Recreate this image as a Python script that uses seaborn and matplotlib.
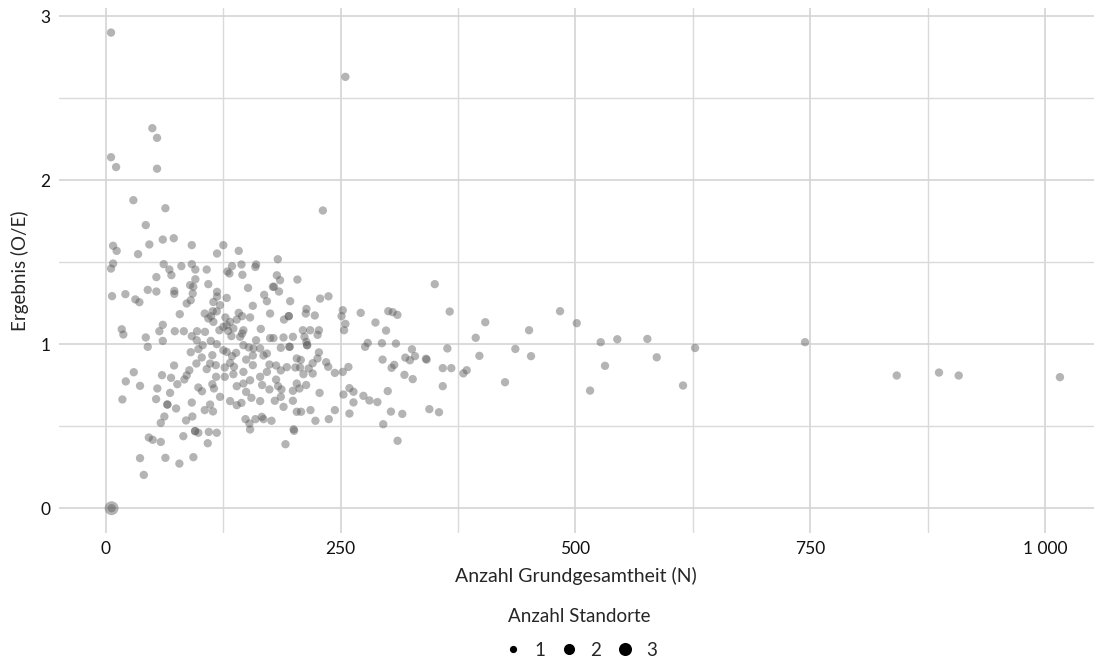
import pandas as pd
import seaborn as sns
import matplotlib
matplotlib.use("Agg")
import matplotlib.pyplot as plt
from matplotlib.ticker import MultipleLocator, FuncFormatter

# Anzahl Grundgesamtheit (N) und Ergebnis (O/E), je ein Standort
n_values = [
    5.4, 49.4, 54.4, 5.4, 10.8, 54.4, 29.2, 63.3, 42.4, 7.6, 11.4, 34.2, 46.2, 60.5, 72.2, 91.4, 118.3,
    255, 231,
    7.6, 5.4, 61.5, 67.5, 69.7, 80.3, 91.4, 95.2, 107.3, 95.2, 53.7, 6.5, 20.7, 44.5, 53.7, 31.3, 35.6,
    72.8, 72.8, 89.6, 93, 109, 92.4, 90.3, 86, 118.3, 118.3, 78.6, 105.2, 109, 114.4, 112, 118, 60.5,
    56.9, 73.3, 82.9, 16.8, 18.5, 42.4, 44.5, 60.5, 91.4, 97, 105.5, 96.7, 103, 111.6, 118, 98.4, 90.3,
    102, 113.3, 96.3, 107.3, 117, 72.5, 29.6, 21.1, 36.3, 59.7, 69.3, 88.8, 86, 83.5, 76, 54.7, 98.4,
    102.3, 113.3, 115, 68.3, 17.5, 53.4, 65.4, 65.4, 74.7, 91.4, 110.9, 105.2, 114, 62.2, 92, 58.4, 85.3,
    94.9, 94.9, 98.4, 109.5, 118, 82.4, 45.6, 49.8, 58.4, 108.4, 36.3, 63.3, 78.2, 93.1, 40.3,
    125, 141.4, 183, 134.3, 144.3, 159.9, 129.3, 131.5, 145.3, 159.1, 182, 185.4, 203.9, 179, 177.8,
    184.3, 151.3, 128.6, 168.5, 171.4, 196.2, 228.1, 237, 114.4, 121.5, 156.4, 113.7, 141.4, 145, 153.5,
    174.8, 194.7, 194.7, 189.6, 213.5, 212.8, 222.4, 250.9, 127.2, 132.2, 139.3, 125, 128.6, 135.7,
    130.1, 120.8, 146.4, 133.6, 142.9, 145, 164.9, 174.8, 178.4, 189.1, 199.1, 209.7, 217.5, 226.8,
    225.4, 211.4, 213.5, 214.2, 214.2, 159.9, 125, 128.6, 146.4, 152.1, 157.1, 164.2, 186.2, 195.5,
    195.5, 171.4, 167.8, 156.4, 149.3, 138.6, 134.3, 132.2, 136.4, 110.9, 126.5, 126.5, 135.7, 146.4,
    156.4, 164.2, 171.4, 174.1, 181.2, 186.2, 192.6, 201.7, 206.7, 215.9, 210.3, 220.2, 203.2, 207.5,
    220.2, 225.3, 226.8, 234.5, 236.7, 243.8, 117.3, 121.5, 139.3, 146.4, 153.5, 149.3, 144.3, 139.3,
    132.2, 154.9, 164.2, 166.3, 174.1, 181.2, 183.3, 186.9, 186.2, 179.8, 189.1, 199.1, 199.1, 203.2,
    206.1, 213.2, 227.5, 203.2, 207.8, 217.8, 223.1, 237.3, 243.8, 148.6, 152.8, 159.2, 166, 167.8,
    176.3, 199.8, 153.5, 191.2, 200.4,
    350.2, 252.2, 271.3, 300.7, 305.4, 310.4, 255, 253.6, 287, 298.3, 278.8, 276, 293.9, 308.8, 325.9,
    294.6, 318.8, 323.7, 329.1, 340.8, 341.5, 307, 304.2, 258.2, 252.2, 317.9, 326.7, 259.3, 263.6,
    252.9, 274.2, 280.6, 289.1, 300.1, 263.6, 259.3, 303.5, 315.6, 344.4, 354.7, 295.3, 310.6,
    366.1, 404, 393.8, 450.6, 483.6, 501.4, 363.6, 397.7, 436, 452.7, 526.9, 544.6, 576.6, 627.4,
    586.6, 531.5, 358.7, 367.8, 380.6, 384.2, 425, 358.7, 515.6, 614.6,
    744.5, 842.2, 887.2, 908.2, 1016,
    6,
]
oe_values = [
    2.90, 2.317, 2.258, 2.14, 2.08, 2.07, 1.878, 1.829, 1.726, 1.60, 1.569, 1.549, 1.608, 1.638, 1.646, 1.604, 1.553,
    2.63, 1.815,
    1.492, 1.461, 1.488, 1.455, 1.421, 1.476, 1.488, 1.455, 1.455, 1.396, 1.409, 1.293, 1.305, 1.331, 1.321, 1.273, 1.256,
    1.325, 1.307, 1.36, 1.35, 1.366, 1.309, 1.268, 1.248, 1.319, 1.29, 1.183, 1.187, 1.157, 1.136, 1.17, 1.20, 1.118,
    1.079, 1.079, 1.079, 1.091, 1.059, 1.041, 0.984, 1.02, 1.049, 1.079, 1.075, 1.024, 0.994, 1.02, 1.0, 0.97, 0.951,
    0.919, 0.933, 0.882, 0.848, 0.872, 0.87, 0.829, 0.773, 0.746, 0.811, 0.795, 0.841, 0.81, 0.785, 0.756, 0.73, 0.736,
    0.713, 0.756, 0.73, 0.703, 0.663, 0.665, 0.632, 0.632, 0.608, 0.644, 0.632, 0.598, 0.59, 0.559, 0.559, 0.52, 0.535,
    0.47, 0.47, 0.46, 0.465, 0.46, 0.439, 0.431, 0.417, 0.404, 0.396, 0.305, 0.307, 0.272, 0.311, 0.203,
    1.604, 1.569, 1.518, 1.476, 1.486, 1.486, 1.443, 1.431, 1.423, 1.471, 1.42, 1.39, 1.394, 1.35, 1.35,
    1.321, 1.343, 1.282, 1.301, 1.262, 1.262, 1.278, 1.292, 1.257, 1.238, 1.234, 1.201, 1.191, 1.171, 1.163,
    1.187, 1.171, 1.171, 1.15, 1.215, 1.187, 1.175, 1.171, 1.163, 1.136, 1.15, 1.106, 1.116, 1.096,
    1.081, 1.085, 1.085, 1.049, 1.045, 1.065, 1.093, 1.037, 1.037, 1.041, 1.045, 1.085, 1.085, 1.085,
    1.057, 1.045, 1.014, 0.994, 0.994, 1.024, 0.963, 0.953, 0.994, 0.98, 0.974, 0.974, 0.978, 0.984,
    0.984, 0.943, 0.931, 0.931, 0.906, 0.947, 0.927, 0.886, 0.862, 0.882, 0.858, 0.801, 0.817, 0.831,
    0.872, 0.801, 0.831, 0.876, 0.87, 0.84, 0.86, 0.858, 0.858, 0.852, 0.817, 0.821, 0.913, 0.904,
    0.884, 0.913, 0.95, 0.89, 0.862, 0.825, 0.801, 0.679, 0.744, 0.76, 0.78, 0.709, 0.642, 0.628,
    0.653, 0.673, 0.653, 0.751, 0.724, 0.784, 0.744, 0.724, 0.679, 0.655, 0.618, 0.655, 0.716, 0.76,
    0.73, 0.751, 0.703, 0.588, 0.588, 0.598, 0.533, 0.543, 0.598, 0.543, 0.516, 0.543, 0.557, 0.543,
    0.533, 0.481, 0.48, 0.39, 0.472,
    1.366, 1.207, 1.191, 1.201, 1.195, 1.179, 1.124, 1.085, 1.132, 1.083, 1.008, 0.984, 1.006, 1.004, 0.969,
    0.906, 0.918, 0.902, 0.927, 0.911, 0.906, 0.874, 0.856, 0.861, 0.831, 0.813, 0.787, 0.732, 0.71,
    0.693, 0.685, 0.657, 0.647, 0.714, 0.645, 0.577, 0.589, 0.575, 0.604, 0.585, 0.512, 0.411,
    1.199, 1.134, 1.039, 1.085, 1.201, 1.128, 0.974, 0.929, 0.971, 0.927, 1.012, 1.030, 1.032, 0.977,
    0.92, 0.868, 0.854, 0.854, 0.822, 0.841, 0.768, 0.744, 0.717, 0.748,
    1.012, 0.809, 0.827, 0.809, 0.799,
    0.0,
]

# Einträge mit mehreren Standorten
n_multi = [6]
oe_multi = [0.0]
standorte_multi = [3]

standorte_levels = ["1", "2", "3"]

df = pd.DataFrame({
    "N": n_values + n_multi,
    "OE": oe_values + oe_multi,
    "Standorte": ["1"] * len(n_values) + [str(s) for s in standorte_multi],
})

sns.set_theme(style="white")
plt.rcParams["font.family"] = ["Lato", "DejaVu Sans"]

fig = plt.figure(figsize=(11.01, 6.64), dpi=100)
ax = fig.add_axes([0.0536, 0.1976, 0.9398, 0.7904])

sns.scatterplot(
    data=df, x="N", y="OE", size="Standorte",
    size_order=standorte_levels,
    sizes={"1": 36, "2": 66, "3": 100},
    color="#5a5a5a", alpha=0.45, linewidth=0,
    ax=ax,
)

ax.set_xlim(-50, 1052)
ax.set_ylim(-0.15, 3.05)
ax.xaxis.set_major_locator(MultipleLocator(250))
ax.xaxis.set_minor_locator(MultipleLocator(125))
ax.yaxis.set_major_locator(MultipleLocator(1))
ax.yaxis.set_minor_locator(MultipleLocator(0.5))
ax.xaxis.set_major_formatter(FuncFormatter(lambda v, p: f"{int(v):,}".replace(",", " ")))
ax.yaxis.set_major_formatter(FuncFormatter(lambda v, p: f"{int(v)}"))
ax.grid(which="major", color="#d4d4d4", linewidth=1.2)
ax.grid(which="minor", color="#dadada", linewidth=1.0)
ax.set_axisbelow(True)
sns.despine(ax=ax, left=True, bottom=True)
ax.tick_params(which="both", length=0, labelsize=12.5, colors="#111111")
ax.tick_params(axis="x", pad=6)
ax.tick_params(axis="y", pad=6)

ax.set_xlabel("Anzahl Grundgesamtheit (N)", fontsize=14, labelpad=7)
ax.set_ylabel("Ergebnis (O/E)", fontsize=13.5, labelpad=8)

sns.move_legend(
    ax, "upper center", bbox_to_anchor=(0.503, -0.118), ncol=3, frameon=False,
    title="Anzahl Standorte", fontsize=13.5, title_fontsize=13.5,
    handlelength=1.2, handletextpad=0.55, columnspacing=0.65, borderpad=0.2,
)
leg = ax.get_legend()
leg._legend_box.sep = 12
# schwarze Legendenpunkte
for h, ms in zip(leg.legend_handles, [5.2, 8.0, 9.4]):
    h.set_markerfacecolor("black")
    h.set_markeredgecolor("black")
    h.set_alpha(1)
    h.set_markersize(ms)

fig.savefig("out.png", dpi=100)
